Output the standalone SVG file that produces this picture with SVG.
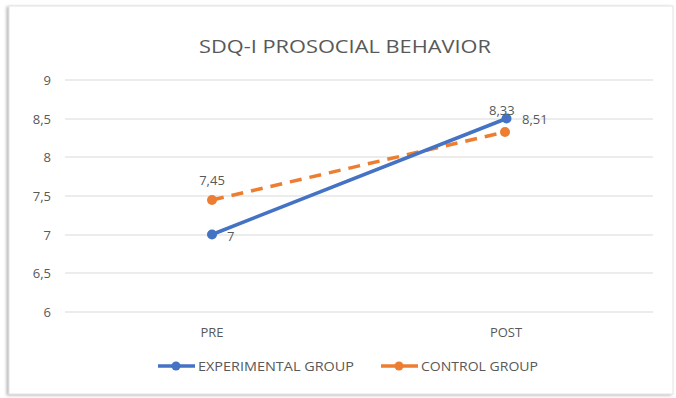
<svg xmlns="http://www.w3.org/2000/svg" width="676" height="398" viewBox="0 0 676 398">
<defs>
<style>
.t{font-family:"Open Sans","Liberation Sans",sans-serif;fill:#595959;font-size:13px}
.grid{stroke:#d9d9d9;stroke-width:1}
.exp{stroke:#4472C4;stroke-width:3.5;fill:none;stroke-linecap:round}
.ctl{stroke:#ED7D31;stroke-width:3.5;fill:none;stroke-dasharray:12,8}
</style>
<filter id="sh" x="-5%" y="-5%" width="110%" height="110%">
<feDropShadow dx="-2" dy="1" stdDeviation="1.5" flood-color="#888" flood-opacity="0.6"/>
</filter>
</defs>
<rect x="0" y="0" width="676" height="398" fill="#ffffff"/>
<rect x="9" y="6" width="664" height="388" fill="#ffffff" stroke="#e3e3e3" stroke-width="1" filter="url(#sh)"/>
<text id="title" x="345" y="53" text-anchor="middle" class="t" style="font-size:19px" textLength="292" lengthAdjust="spacingAndGlyphs">SDQ-I PROSOCIAL BEHAVIOR</text>
<g id="axis">
<line class="grid" x1="65" y1="80" x2="653" y2="80"/>
<line class="grid" x1="65" y1="119" x2="653" y2="119"/>
<line class="grid" x1="65" y1="157" x2="653" y2="157"/>
<line class="grid" x1="65" y1="196" x2="653" y2="196"/>
<line class="grid" x1="65" y1="235" x2="653" y2="235"/>
<line class="grid" x1="65" y1="273" x2="653" y2="273"/>
<line class="grid" x1="65" y1="312" x2="653" y2="312"/>
<g text-anchor="end">
<text class="t" x="51" y="85">9</text>
<text class="t" x="51" y="124">8,5</text>
<text class="t" x="51" y="162">8</text>
<text class="t" x="51" y="201">7,5</text>
<text class="t" x="51" y="240">7</text>
<text class="t" x="51" y="278">6,5</text>
<text class="t" x="51" y="317">6</text>
</g>
<text class="t" x="212" y="337" text-anchor="middle">PRE</text>
<text class="t" x="506" y="337" text-anchor="middle">POST</text>
</g>
<g id="connectors">
<path id="control" class="ctl" d="M212,200 L505,132"/>
<path id="experimental" class="exp" d="M212,234.5 L506.5,118.5"/>
</g>
<g id="control-points" fill="#ED7D31">
<circle cx="212" cy="200" r="5"/>
<circle cx="505" cy="132" r="5"/>
</g>
<g id="experimental-points" fill="#4472C4">
<circle cx="212" cy="234.5" r="5"/>
<circle cx="506.5" cy="118.5" r="5"/>
</g>
<g id="labels">
<text class="t" x="212" y="185" text-anchor="middle">7,45</text>
<text class="t" x="227" y="241">7</text>
<text class="t" x="489" y="115">8,33</text>
<text class="t" x="522" y="124">8,51</text>
</g>
<g id="legend">
<line x1="158" y1="366" x2="195" y2="366" stroke="#4472C4" stroke-width="3.5"/>
<circle cx="176" cy="366" r="4.5" fill="#4472C4"/>
<text class="t" x="198" y="371" textLength="156" lengthAdjust="spacingAndGlyphs">EXPERIMENTAL GROUP</text>
<line x1="381" y1="366" x2="418" y2="366" stroke="#ED7D31" stroke-width="3.5"/>
<circle cx="399" cy="366" r="4.5" fill="#ED7D31"/>
<text class="t" x="421" y="371" textLength="117" lengthAdjust="spacingAndGlyphs">CONTROL GROUP</text>
</g>
</svg>
